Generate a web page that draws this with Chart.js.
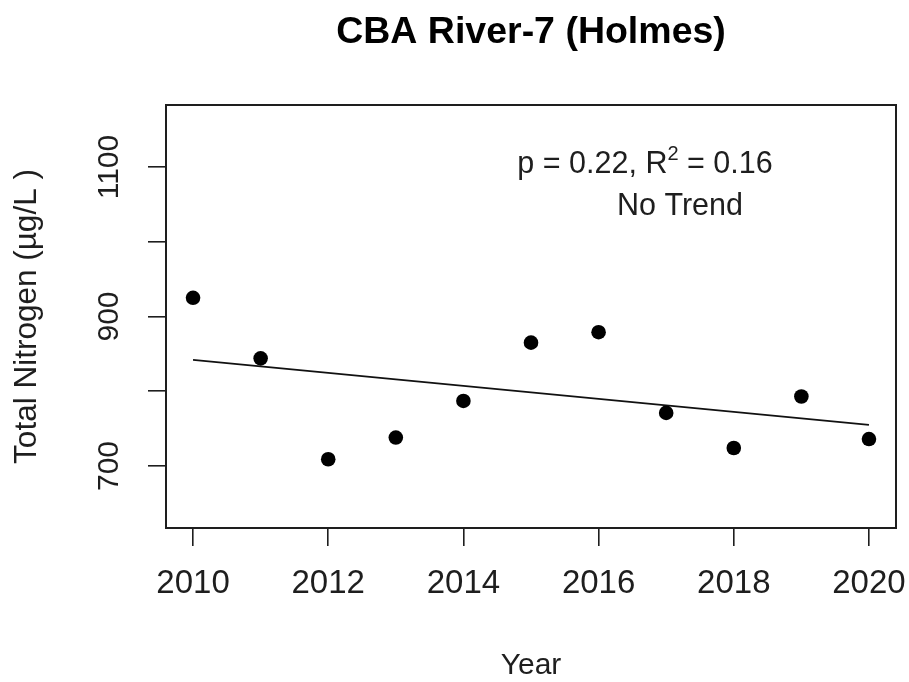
<!DOCTYPE html>
<html>
<head>
<meta charset="utf-8">
<script src="https://cdn.jsdelivr.net/npm/chart.js@4/dist/chart.umd.min.js"></script>
<style>
  html, body { margin: 0; padding: 0; background: #fff; }
  #wrap { width: 909px; height: 682px; }
</style>
</head>
<body>
<div id="wrap"><canvas id="myScatterChart" width="909" height="682"></canvas></div>
<script>
  const years = [2010, 2011, 2012, 2013, 2014, 2015, 2016, 2017, 2018, 2019, 2020];
  const nitrogen = [925, 844, 709, 738, 787, 865, 879, 771, 724, 793, 736];
  const trendYears = [2010, 2020];
  const trendValues = [842, 755];
  const xTicks = [2010, 2012, 2014, 2016, 2018, 2020];
  const yTicks = [700, 800, 900, 1000, 1100];
  const yTickLabels = ["700", "", "900", "", "1100"];

  const FONT = "'Liberation Sans', Arial, sans-serif";
  const INK = "#1e1e1e";

  // box around the plot area + the p / R² note
  const frame = {
    id: "frame",
    afterDraw(chart) {
      const { ctx, chartArea: a } = chart;
      ctx.save();
      ctx.strokeStyle = INK;
      ctx.lineWidth = 2;
      ctx.strokeRect(a.left, a.top, a.right - a.left, a.bottom - a.top);

      ctx.fillStyle = INK;
      ctx.textBaseline = "alphabetic";
      const big = "30.5px " + FONT, small = "20px " + FONT;
      const parts = [["p = 0.22, R", big, 0], ["2", small, -13], [" = 0.16", big, 0]];
      let w = 0;
      parts.forEach(p => { ctx.font = p[1]; w += ctx.measureText(p[0]).width; });
      let x = 645 - w / 2;
      parts.forEach(p => {
        ctx.font = p[1];
        ctx.textAlign = "left";
        ctx.fillText(p[0], x, 173 + p[2]);
        x += ctx.measureText(p[0]).width;
      });
      ctx.font = big;
      ctx.textAlign = "center";
      ctx.fillText("No Trend", 680, 215);
      ctx.restore();
    }
  };

  let plotScatter = () => {
    const ctx = document.getElementById("myScatterChart");
    const dataset = {
      datasets: [
        {
          label: "Total Nitrogen",
          data: years.map((y, i) => ({ x: y, y: nitrogen[i] })),
          backgroundColor: "#000",
          borderWidth: 0,
          pointRadius: 7.3,
          pointHoverRadius: 7.3,
        },
        {
          label: "Trend",
          data: trendYears.map((y, i) => ({ x: y, y: trendValues[i] })),
          showLine: true,
          borderColor: "#111",
          borderWidth: 1.8,
          pointRadius: 0,
          fill: false,
        },
      ],
    };
    const config = {
      type: "scatter",
      data: dataset,
      options: {
        responsive: false,
        animation: false,
        layout: { padding: { top: 0, right: 13, bottom: 0, left: 0 } },
        plugins: {
          legend: { display: false },
          tooltip: { enabled: false },
          title: {
            display: true,
            fullSize: false,
            text: "CBA River-7 (Holmes)",
            color: "#000",
            font: { family: FONT, size: 37.5, weight: "bold", lineHeight: 1.2 },
            padding: { top: 10.5, bottom: 49.5 },
          },
        },
        scales: {
          x: {
            type: "linear",
            min: 2009.6,
            max: 2020.4,
            afterBuildTicks: (s) => { s.ticks = xTicks.map(v => ({ value: v })); },
            afterFit: (s) => { s.height = 154; s.paddingLeft = 0; s.paddingRight = 0; },
            ticks: {
              autoSkip: false,
              maxRotation: 0,
              padding: 18,
              color: INK,
              font: { family: FONT, size: 33 },
              callback: (v) => String(v),
            },
            grid: { drawOnChartArea: false, drawTicks: true, tickLength: 18, color: INK, lineWidth: 1.6 },
            border: { display: false },
            title: {
              display: true,
              text: "Year",
              color: INK,
              font: { family: FONT, size: 30, lineHeight: 1.1 },
              padding: { top: 0, bottom: 0 },
            },
          },
          y: {
            min: 617,
            max: 1183,
            afterBuildTicks: (s) => { s.ticks = yTicks.map(v => ({ value: v })); },
            afterFit: (s) => { s.width = 166; s.paddingTop = 0; s.paddingBottom = 0; },
            ticks: {
              autoSkip: false,
              minRotation: 90,
              maxRotation: 90,
              crossAlign: "center",
              padding: 6,
              color: INK,
              font: { family: FONT, size: 30 },
              callback: (v, i) => yTickLabels[i],
            },
            grid: { drawOnChartArea: false, drawTicks: true, tickLength: 18, color: INK, lineWidth: 1.6 },
            border: { display: false },
            title: {
              display: true,
              text: "Total Nitrogen (µg/L )",
              color: INK,
              font: { family: FONT, size: 31.5 },
              padding: { top: 8.6, bottom: 0 },
            },
          },
        },
      },
      plugins: [frame],
    };
    const chart = new Chart(ctx, config);
  };

  plotScatter();
</script>
</body>
</html>
